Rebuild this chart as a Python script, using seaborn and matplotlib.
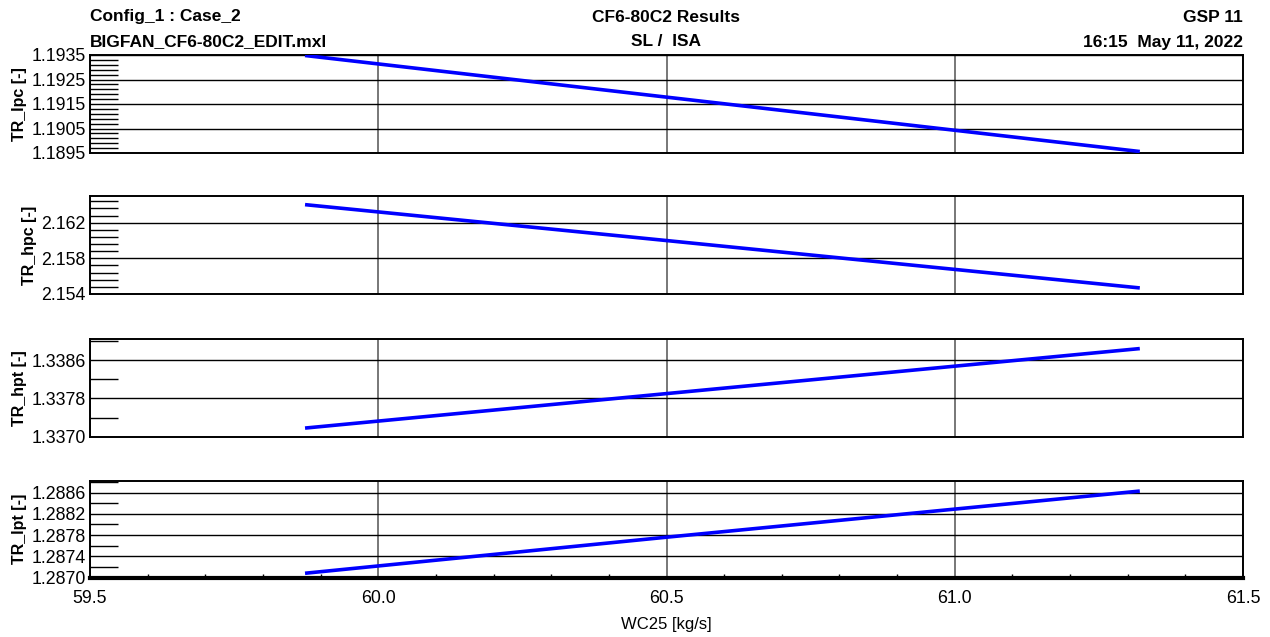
import numpy as np
import pandas as pd
import matplotlib
matplotlib.use("Agg")
import matplotlib.pyplot as plt
from matplotlib.ticker import FixedLocator, FormatStrFormatter, MultipleLocator
import seaborn as sns

# Corrected fan-exit flow and turbine/compressor temperature ratios
wc25 = [59.873, 60.5, 61.321]
tr_lpc = [1.19348, 1.19178, 1.18956]
tr_hpc = [2.16403, 2.16000, 2.15468]
tr_hpt = [1.33718, 1.33790, 1.33884]
tr_lpt = [1.28708, 1.28776, 1.28863]

panel_names = ["TR_lpc [-]", "TR_hpc [-]", "TR_hpt [-]", "TR_lpt [-]"]
panel_series = [tr_lpc, tr_hpc, tr_hpt, tr_lpt]
panel_ylims = [(1.1895, 1.1935), (2.154, 2.1650), (1.3370, 1.33904), (1.2870, 1.28882)]
panel_major = [
    [1.1895, 1.1905, 1.1915, 1.1925, 1.1935],
    [2.154, 2.158, 2.162],
    [1.3370, 1.3378, 1.3386],
    [1.2870, 1.2874, 1.2878, 1.2882, 1.2886],
]
panel_minor_step = [0.0002, 0.0008, 0.0004, 0.0002]
panel_fmt = ["%.4f", "%.3f", "%.4f", "%.4f"]
x_ticks = [59.5, 60.0, 60.5, 61.0, 61.5]

sns.set_theme(style="white")
plt.rcParams["font.family"] = ["Liberation Sans", "DejaVu Sans"]
plt.rcParams["text.color"] = "black"
plt.rcParams["axes.labelcolor"] = "black"
plt.rcParams["xtick.color"] = "black"
plt.rcParams["ytick.color"] = "black"

fig = plt.figure(figsize=(12.7, 6.37), dpi=100)

left, right = 90 / 1270, 1243 / 1270
tops_px = [55, 196, 339, 481]
bots_px = [153, 294, 436.7, 577.5]

axes = []
for i in range(4):
    b = 1 - bots_px[i] / 637
    t = 1 - tops_px[i] / 637
    ax = fig.add_axes([left, b, right - left, t - b])
    axes.append(ax)
    df = pd.DataFrame({"WC25": wc25, "val": panel_series[i]})
    sns.lineplot(data=df, x="WC25", y="val", ax=ax, color="#0000ff",
                 linewidth=2.6, solid_capstyle="butt", zorder=5)
    lo, hi = panel_ylims[i]
    ax.set_ylim(lo, hi)
    ax.set_xlim(59.5, 61.5)
    ax.yaxis.set_major_locator(FixedLocator(panel_major[i]))
    ax.yaxis.set_major_formatter(FormatStrFormatter(panel_fmt[i]))
    step = panel_minor_step[i]
    ax.yaxis.set_minor_locator(FixedLocator(np.arange(lo, hi + 1e-9, step)))
    ax.xaxis.set_major_locator(FixedLocator(x_ticks))
    ax.xaxis.set_major_formatter(FormatStrFormatter("%.1f"))
    ax.tick_params(axis="y", which="major", direction="in", length=0,
                   labelsize=12.8, pad=3, colors="black")
    ax.tick_params(axis="y", which="minor", direction="in", length=20,
                   width=1, left=True, right=False, color="black")
    ax.grid(which="major", axis="y", color="black", linewidth=1.0)
    ax.grid(which="major", axis="x", color="#606060", linewidth=1.2)
    for sp in ax.spines.values():
        sp.set_color("black")
        sp.set_linewidth(1.4)
        sp.set_visible(True)
    ax.set_ylabel(panel_names[i], fontsize=11.5, fontweight="bold", labelpad=3)
    if i < 3:
        ax.tick_params(axis="x", which="both", bottom=False, labelbottom=False)
        ax.set_xlabel("")
    else:
        ax.xaxis.set_minor_locator(MultipleLocator(0.1))
        ax.tick_params(axis="x", which="major", direction="in", length=0,
                       labelsize=12.8, pad=9, colors="black")
        ax.tick_params(axis="x", which="minor", direction="in", length=3,
                       width=1, bottom=True, color="black")
        ax.spines["bottom"].set_linewidth(3)
        ax.set_xlabel("WC25 [kg/s]", fontsize=12, labelpad=7)

hdr = dict(fontsize=12.5, fontweight="bold", va="center", color="black")
fig.text(90 / 1270, 1 - 17 / 637, "Config_1 : Case_2", ha="left", **hdr)
fig.text(90 / 1270, 1 - 42 / 637, "BIGFAN_CF6-80C2_EDIT.mxl", ha="left", **hdr)
fig.text(666 / 1270, 1 - 17 / 637, "CF6-80C2 Results", ha="center", **hdr)
fig.text(666 / 1270, 1 - 42 / 637, "SL /  ISA", ha="center", **hdr)
fig.text(1243 / 1270, 1 - 17 / 637, "GSP 11", ha="right", **hdr)
fig.text(1243 / 1270, 1 - 42 / 637, "16:15  May 11, 2022", ha="right", **hdr)

fig.savefig("out.png", dpi=100, facecolor="white")
